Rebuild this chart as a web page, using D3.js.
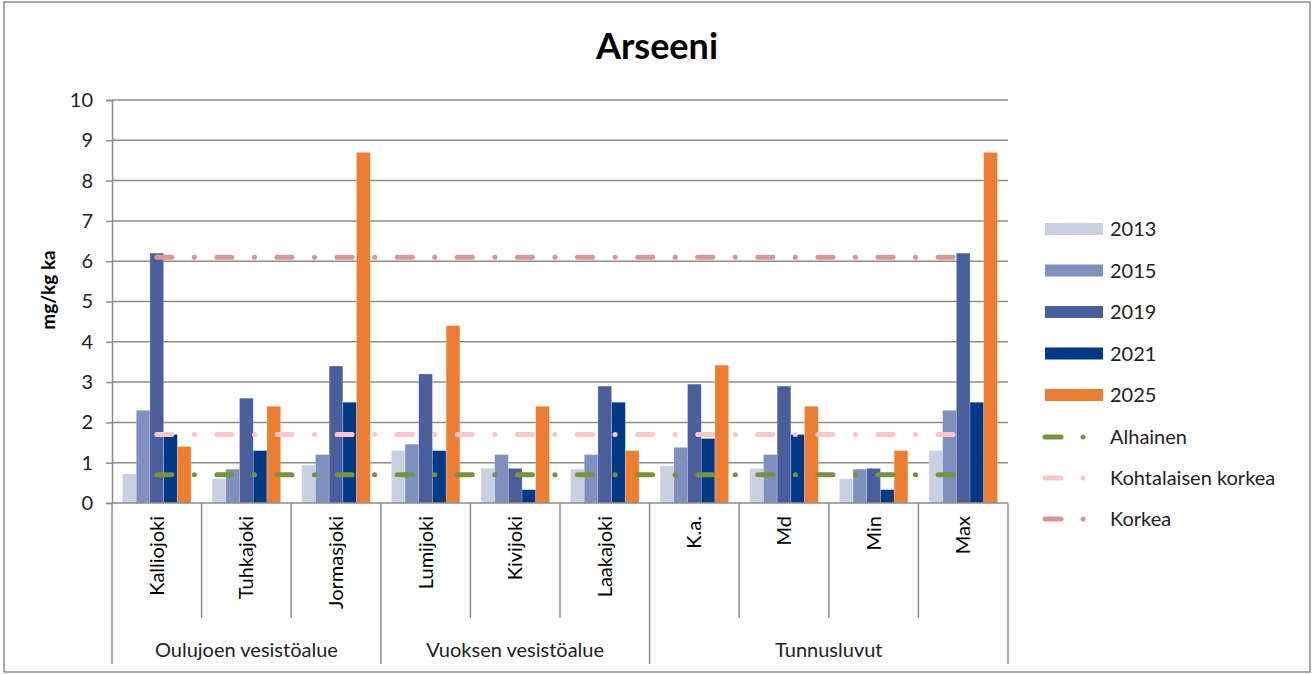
<!DOCTYPE html>
<html><head><meta charset="utf-8">
<script src="https://cdn.jsdelivr.net/npm/d3@7"></script>
<style>body{margin:0;background:#fff;font-family:Lato,"Open Sans",sans-serif}</style>
</head><body><svg id="c" width="1314" height="674"></svg>
<script>
const categories = ["Kalliojoki","Tuhkajoki","Jormasjoki","Lumijoki","Kivijoki","Laakajoki","K.a.","Md","Min","Max"];
const groups = [
  {name:"Oulujoen vesistöalue", count:3},
  {name:"Vuoksen vesistöalue", count:3},
  {name:"Tunnusluvut", count:4}
];
const seriesNames = ["2013","2015","2019","2021","2025"];
const v2013 = [0.72,0.6,0.94,1.3,0.86,0.84,0.92,0.86,0.6,1.3];
const v2015 = [2.3,0.84,1.2,1.46,1.2,1.2,1.38,1.2,0.84,2.3];
const v2019 = [6.2,2.6,3.4,3.2,0.86,2.9,2.95,2.9,0.86,6.2];
const v2021 = [1.7,1.3,2.5,1.3,0.33,2.5,1.6,1.7,0.33,2.5];
const v2025 = [1.4,2.4,8.7,4.4,2.4,1.3,3.42,2.4,1.3,8.7];
const seriesValues = [v2013,v2015,v2019,v2021,v2025];
const seriesColors = ["#c9d0e2","#7f8fbe","#4a5d9c","#003a87","#ed7d31"];
const refNames = ["Alhainen","Kohtalaisen korkea","Korkea"];
const refValues = [0.7,1.7,6.1];
const refColors = ["#77933c","#f9c6c9","#d99694"];
const yTicks = [0,1,2,3,4,5,6,7,8,9,10];

const svg = d3.select("#c");
const L = 112, R = 1008, T = 100, B = 503;
const x = d3.scaleBand().domain(categories).range([L,R]).padding(0);
const xs = d3.scaleBand().domain(seriesNames).range([0,x.bandwidth()]).paddingInner(0).paddingOuter(0.77);
const y = d3.scaleLinear().domain([0,10]).range([B,T]);
const grey = "#8c8c8c";
const FS = 20;

// outer border
svg.append("rect").attr("x",4).attr("y",2).attr("width",1306).attr("height",670)
  .attr("fill","none").attr("stroke",grey).attr("stroke-width",1.5);

// title
svg.append("text").attr("x",657).attr("y",59).attr("text-anchor","middle")
  .attr("font-weight","bold").attr("font-size",36).attr("fill","#000").text("Arseeni");

// gridlines
svg.append("g").selectAll("line").data(yTicks.filter(d=>d>0)).join("line")
  .attr("x1",L).attr("x2",R).attr("y1",d=>y(d)).attr("y2",d=>y(d))
  .attr("stroke",grey).attr("stroke-width",1.5);

// y axis
const yAxis = svg.append("g").attr("transform",`translate(${L},0)`)
  .call(d3.axisLeft(y).tickValues(yTicks).tickSize(6).tickPadding(13).tickFormat(d3.format("d")));
yAxis.select(".domain").attr("stroke",grey).attr("stroke-width",1.5);
yAxis.selectAll(".tick line").attr("stroke",grey).attr("stroke-width",1.5);
yAxis.selectAll("text").attr("font-size",FS).attr("fill","#222").attr("font-family","Lato,sans-serif");

svg.append("text").attr("transform",`translate(55,290) rotate(-90)`).attr("text-anchor","middle")
  .attr("font-weight","bold").attr("font-size",19).attr("fill","#000").text("mg/kg ka");

// bars
seriesNames.forEach((s,i)=>{
  svg.append("g").selectAll("rect").data(seriesValues[i]).join("rect")
    .attr("x",(d,j)=>x(categories[j])+xs(s))
    .attr("width",xs.bandwidth())
    .attr("y",d=>y(d)).attr("height",d=>B-y(d))
    .attr("fill",seriesColors[i]).attr("stroke","#fff").attr("stroke-opacity",0.35).attr("stroke-width",0.6);
});

// reference lines
const c0 = x(categories[0])+x.bandwidth()/2, c1 = x(categories[categories.length-1])+x.bandwidth()/2;
refValues.forEach((v,i)=>{
  svg.append("line").attr("x1",c0).attr("x2",c1).attr("y1",y(v)).attr("y2",y(v))
    .attr("stroke",refColors[i]).attr("stroke-width",5).attr("stroke-linecap","round")
    .attr("stroke-dasharray","15,22.5,0.1,22.5");
});

// x axis
svg.append("line").attr("x1",L).attr("x2",R).attr("y1",B).attr("y2",B).attr("stroke",grey).attr("stroke-width",1.5);
// category dividers
const cat = svg.append("g");
let idx = 0; const groupEdges=[0];
groups.forEach(g=>{ idx+=g.count; groupEdges.push(idx); });
for(let k=0;k<=categories.length;k++){
  const xx = k<categories.length ? x(categories[k]) : R;
  const isGroup = groupEdges.includes(k);
  cat.append("line").attr("x1",xx).attr("x2",xx).attr("y1",B).attr("y2",isGroup?664:618)
    .attr("stroke",grey).attr("stroke-width",1.5);
}
cat.selectAll("text.cl").data(categories).join("text").attr("class","cl")
  .attr("transform",d=>`translate(${x(d)+x.bandwidth()/2+7},516) rotate(-90)`)
  .attr("text-anchor","end").attr("font-size",FS).attr("fill","#000").text(d=>d);
let start=0;
groups.forEach(g=>{
  const x0 = x(categories[start]);
  const x1 = start+g.count<categories.length ? x(categories[start+g.count]) : R;
  cat.append("text").attr("x",(x0+x1)/2).attr("y",657).attr("text-anchor","middle")
    .attr("font-size",FS).attr("fill","#222").text(g.name);
  start+=g.count;
});

// legend
const lg = svg.append("g");
seriesNames.forEach((s,i)=>{
  const yy = 229 + i*41.5;
  lg.append("rect").attr("x",1045).attr("y",yy-6).attr("width",58).attr("height",12).attr("fill",seriesColors[i]);
  lg.append("text").attr("x",1110).attr("y",yy+7).attr("font-size",FS).attr("fill","#222").text(s);
});
refNames.forEach((r,i)=>{
  const yy = 437 + i*41;
  lg.append("line").attr("x1",1045).attr("x2",1061).attr("y1",yy).attr("y2",yy)
    .attr("stroke",refColors[i]).attr("stroke-width",5).attr("stroke-linecap","round");
  lg.append("circle").attr("cx",1083).attr("cy",yy).attr("r",2.5).attr("fill",refColors[i]);
  lg.append("text").attr("x",1110).attr("y",yy+7).attr("font-size",FS).attr("fill","#222").text(r);
});
</script></body></html>
